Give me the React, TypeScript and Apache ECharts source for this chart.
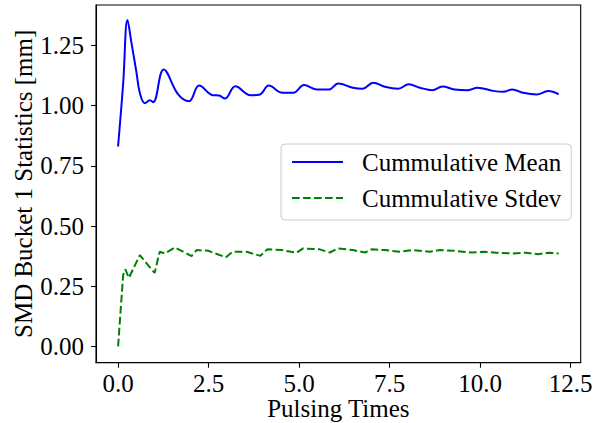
import React, { useEffect, useRef } from "react";
import * as echarts from "echarts";

const meanX = [0, 0.14, 0.26, 0.37, 0.51, 0.6, 0.74, 0.88, 0.97, 1.26, 1.66, 1.96, 2.24, 2.62, 2.79, 2.95, 3.24, 3.66, 3.92, 4.16, 4.54, 4.84, 5.14, 5.48, 5.83, 6.08, 6.49, 6.75, 7.05, 7.37, 7.74, 8.03, 8.34, 8.68, 8.96, 9.3, 9.67, 9.93, 10.36, 10.64, 10.89, 11.19, 11.56, 11.88, 12.17];
const meanY = [0.83, 1.09, 1.355, 1.26, 1.136, 1.053, 1.01, 1.022, 1.014, 1.15, 1.046, 1.018, 1.083, 1.043, 1.042, 1.029, 1.08, 1.043, 1.046, 1.083, 1.053, 1.053, 1.085, 1.067, 1.067, 1.092, 1.074, 1.07, 1.095, 1.078, 1.07, 1.088, 1.074, 1.064, 1.079, 1.067, 1.064, 1.074, 1.061, 1.057, 1.067, 1.053, 1.046, 1.06, 1.047];

const stdX = [0, 0.14, 0.2, 0.3, 0.6, 1.01, 1.15, 1.29, 1.57, 2.03, 2.17, 2.49, 2.98, 3.16, 3.55, 3.93, 4.12, 4.52, 4.93, 5.11, 5.57, 5.85, 6.08, 6.49, 6.82, 7.0, 7.37, 7.78, 8.15, 8.61, 8.89, 9.3, 9.76, 10.08, 10.45, 10.91, 11.27, 11.6, 11.9, 12.17];
const stdY = [0, 0.296, 0.32, 0.285, 0.379, 0.305, 0.393, 0.386, 0.411, 0.375, 0.4, 0.397, 0.37, 0.393, 0.393, 0.376, 0.403, 0.4, 0.389, 0.407, 0.403, 0.39, 0.407, 0.4, 0.39, 0.403, 0.4, 0.393, 0.4, 0.393, 0.4, 0.397, 0.39, 0.393, 0.389, 0.386, 0.389, 0.383, 0.389, 0.386];

const xTicks = [0, 2.5, 5, 7.5, 10, 12.5];
const yTicks = [0, 0.25, 0.5, 0.75, 1.0, 1.25];

const seriesNames = ["Cummulative Mean", "Cummulative Stdev"];
const xAxisTitle = "Pulsing Times";
const yAxisTitle = "SMD Bucket 1 Statistics [mm]";

const FONT = "'Liberation Serif', 'DejaVu Serif', serif";
const FS = 25;

export default function App() {
  const ref = useRef<HTMLDivElement>(null);
  useEffect(() => {
    document.body.style.margin = "0";
    if (!ref.current) return;
    const chart = echarts.init(ref.current, null, { renderer: "svg" });
    const pair = (xs: number[], ys: number[]) => xs.map((x, i) => [x, ys[i]]);
    chart.setOption({
      animation: false,
      backgroundColor: "#ffffff",
      textStyle: { fontFamily: FONT },
      grid: {
        left: 96,
        top: 5,
        right: 13.3,
        bottom: 60.3,
        containLabel: false,
        outerBoundsMode: "none",
        show: true,
        borderColor: "#000",
        borderWidth: 1.1,
        backgroundColor: "transparent",
      },
      legend: {
        orient: "vertical",
        left: 281,
        top: 144,
        width: 287,
        padding: [5, 10, 9, 10],
        itemWidth: 51,
        itemHeight: 26,
        itemGap: 10,
        itemStyle: { opacity: 0 },
        backgroundColor: "rgba(255,255,255,0.8)",
        borderColor: "#cccccc",
        borderWidth: 1,
        borderRadius: 4,
        textStyle: {
          fontFamily: FONT,
          fontSize: FS,
          color: "#000",
          lineHeight: 26,
          padding: [0, 0, 0, 14],
        },
        data: seriesNames,
      },
      xAxis: {
        type: "value",
        min: -0.61,
        max: 12.78,
        splitLine: { show: false },
        axisLine: { show: true, onZero: false, lineStyle: { color: "#000", width: 1.1 } },
        axisTick: { show: true, length: 5, lineStyle: { color: "#000", width: 1.1 }, customValues: xTicks },
        axisLabel: {
          fontFamily: FONT,
          fontSize: FS,
          color: "#000",
          margin: 8,
          customValues: xTicks,
          formatter: (v: number) => v.toFixed(1),
        },
        name: xAxisTitle,
        nameLocation: "middle",
        nameGap: 33,
        nameMoveOverlap: false,
        nameTextStyle: { fontFamily: FONT, fontSize: FS, color: "#000", lineHeight: 25 },
      },
      yAxis: {
        type: "value",
        min: -0.0675,
        max: 1.4175,
        splitLine: { show: false },
        axisLine: { show: true, onZero: false, lineStyle: { color: "#000", width: 1.1 } },
        axisTick: { show: true, length: 5, lineStyle: { color: "#000", width: 1.1 }, customValues: yTicks },
        axisLabel: {
          fontFamily: FONT,
          fontSize: FS,
          color: "#000",
          margin: 12,
          customValues: yTicks,
          formatter: (v: number) => v.toFixed(2),
        },
        name: yAxisTitle,
        nameLocation: "middle",
        nameGap: 60,
        nameMoveOverlap: false,
        nameTextStyle: { fontFamily: FONT, fontSize: FS, color: "#000", lineHeight: 25 },
      },
      series: [
        {
          name: seriesNames[0],
          type: "line",
          data: pair(meanX, meanY),
          symbol: "none",
          smooth: 0.4,
          lineStyle: { color: "#0000ff", width: 2 },
          itemStyle: { color: "#0000ff" },
        },
        {
          name: seriesNames[1],
          type: "line",
          data: pair(stdX, stdY),
          symbol: "none",
          lineStyle: { color: "#008000", width: 2, type: [7.7, 3.3] },
          itemStyle: { color: "#008000" },
        },
      ],
    });
    return () => chart.dispose();
  }, []);
  return <div ref={ref} style={{ width: 594, height: 423 }} />;
}
